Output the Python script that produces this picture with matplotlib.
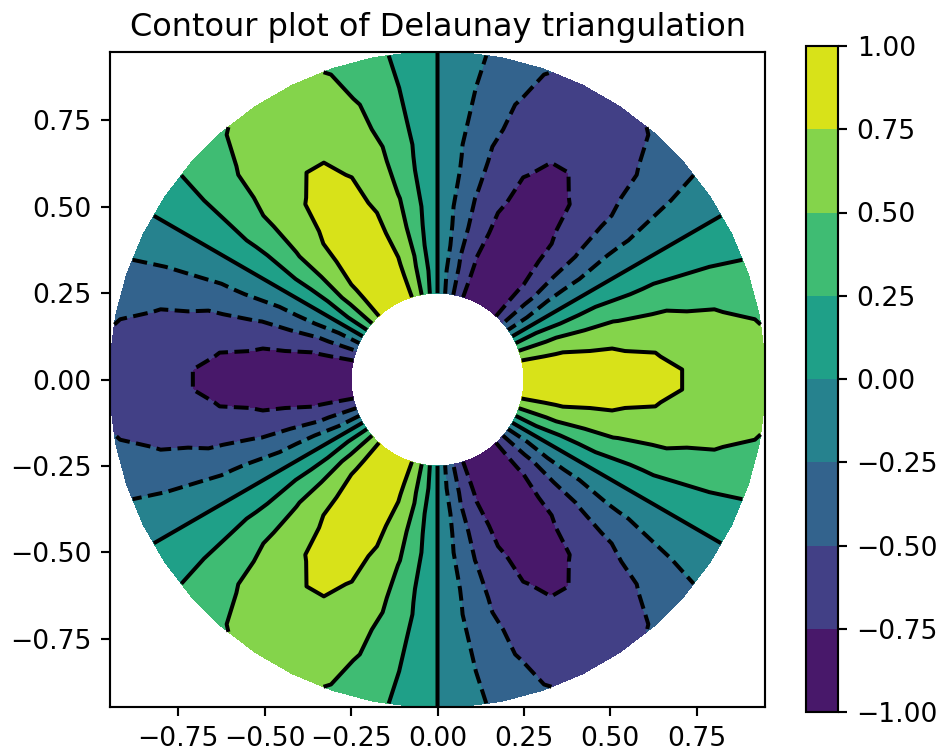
import numpy as np
import matplotlib
matplotlib.use('Agg')
import matplotlib.pyplot as plt
import matplotlib.tri as tri

# grid: 8 rings between r=0.25 and r=0.95, 48 spokes, odd rings offset half a step
radii = [0.25, 0.35, 0.45, 0.55, 0.65, 0.75, 0.85, 0.95]
n_angles = 48
min_radius = 0.25

# values: radial amplitude per ring
ring_amp = [0.97, 0.94, 0.90, 0.85, 0.80, 0.73, 0.66, 0.58]
# angular profile over one lobe (16 spokes), even rings and offset rings
lobe_even = [1.0, 0.92, 0.71, 0.38, 0.0, -0.38, -0.71, -0.92,
             -1.0, -0.92, -0.71, -0.38, 0.0, 0.38, 0.71, 0.92]
lobe_odd = [0.98, 0.83, 0.56, 0.20, -0.20, -0.56, -0.83, -0.98,
            -0.98, -0.83, -0.56, -0.20, 0.20, 0.56, 0.83, 0.98]

levels = [-1.0, -0.75, -0.5, -0.25, 0.0, 0.25, 0.5, 0.75, 1.0]

x, y, z = [], [], []
for i in range(n_angles):
    for j, r in enumerate(radii):
        a = 2 * np.pi * i / n_angles
        if j % 2 == 1:
            a += np.pi / n_angles
            prof = lobe_odd[i % 16]
        else:
            prof = lobe_even[i % 16]
        x.append(r * np.cos(a))
        y.append(r * np.sin(a))
        z.append(ring_amp[j] * prof)
x = np.array(x)
y = np.array(y)
z = np.array(z)

triang = tri.Triangulation(x, y)
triang.set_mask(np.hypot(x[triang.triangles].mean(axis=1),
                         y[triang.triangles].mean(axis=1)) < min_radius)

dpi = 192
fig = plt.figure(figsize=(944 / dpi, 753 / dpi), dpi=dpi)
ax = fig.add_axes([110 / 944, 1 - 707 / 753, 655 / 944, 655 / 753])
cax = fig.add_axes([806 / 944, 1 - 712 / 753, 32 / 944, 666 / 753])

ax.set_aspect('equal')
tcf = ax.tricontourf(triang, z, levels=levels)
fig.colorbar(tcf, cax=cax)
ax.tricontour(triang, z, levels=levels, colors='k')
ax.set_title('Contour plot of Delaunay triangulation')

fig.savefig('out.png', dpi=dpi)
